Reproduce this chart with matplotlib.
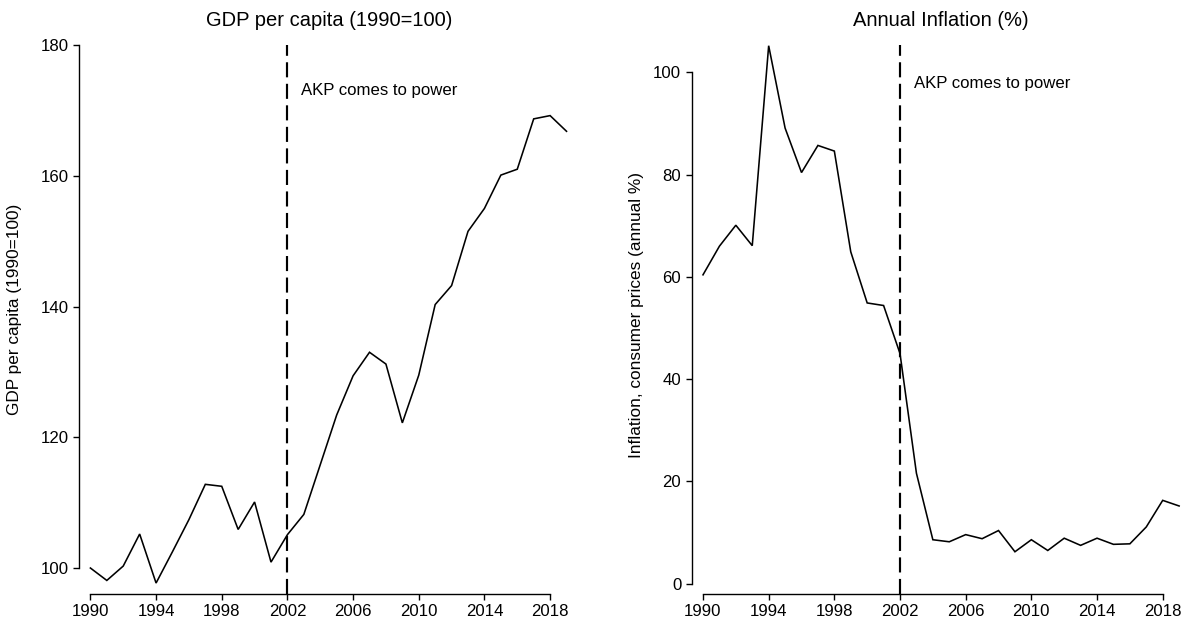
import matplotlib
matplotlib.use("Agg")
import matplotlib.pyplot as plt

plt.rcParams["font.family"] = ["Liberation Sans", "DejaVu Sans"]

# Data: Turkey, 1990-2019
years = list(range(1990, 2020))
gdp_index = [100.0, 98.1, 100.3, 105.2, 97.7, 102.5, 107.4, 112.8, 112.5, 105.9,
             110.1, 100.9, 105.1, 108.2, 115.8, 123.4, 129.4, 133.0, 131.2, 122.2,
             129.5, 140.3, 143.2, 151.5, 155.0, 160.1, 161.0, 168.7, 169.2, 166.8]
inflation = [60.4, 66.0, 70.1, 66.1, 105.2, 89.1, 80.4, 85.7, 84.6, 64.9,
             54.9, 54.4, 45.0, 21.6, 8.6, 8.2, 9.6, 8.8, 10.4, 6.25,
             8.6, 6.5, 8.9, 7.5, 8.9, 7.7, 7.8, 11.1, 16.3, 15.2]

x_ticks = list(range(1990, 2019, 4))
gdp_ticks = [100, 120, 140, 160, 180]
infl_ticks = [0, 20, 40, 60, 80, 100]
event_year = 2002
event_label = "AKP comes to power"

W, H = 1187, 623
fig = plt.figure(figsize=(W / 100, H / 100), dpi=100)

def px_axes(left, top, right, bottom):
    return fig.add_axes([left / W, 1 - bottom / H, (right - left) / W, (bottom - top) / H])

ax1 = px_axes(79.3, 45, 579, 594.3)
ax2 = px_axes(691.9, 45, 1191.6, 594.3)

panels = [
    (ax1, gdp_index, gdp_ticks, (95.98, 180.0), 173.1),
    (ax2, inflation, infl_ticks, (-2.07, 105.34), 97.9),
]

for ax, series, yt, ylim, text_y in panels:
    ax.plot(years, series, color="black", lw=1.15, solid_joinstyle="miter")
    ax.axvline(event_year, color="black", lw=1.55, linestyle=(0, (7, 3)))
    ax.set_xlim(1989.324, 2019.76)
    ax.set_ylim(*ylim)
    ax.set_xticks(x_ticks)
    ax.set_yticks(yt)
    for s in ("top", "right"):
        ax.spines[s].set_visible(False)
    ax.spines["left"].set_bounds(yt[0], yt[-1])
    ax.spines["bottom"].set_bounds(x_ticks[0], x_ticks[-1])
    for s in ("left", "bottom"):
        ax.spines[s].set_linewidth(1.0)
    ax.tick_params(axis="both", length=4.3, width=1.0, labelsize=12.1, color="black")
    ax.tick_params(axis="x", pad=2.5)
    ax.tick_params(axis="y", pad=3.3)
    ax.text(event_year + 0.85, text_y, event_label, fontsize=12.1, va="center", ha="left")
    ax.patch.set_visible(False)

# panel titles and y-axis titles, placed in figure pixels
fig.text(329 / W, 1 - 21 / H, "GDP per capita (1990=100)", fontsize=14.5,
         ha="center", va="center")
fig.text(940.6 / W, 1 - 21 / H, "Annual Inflation (%)", fontsize=14.5,
         ha="center", va="center")
fig.text(15 / W, 1 - 309 / H, "GDP per capita (1990=100)", fontsize=12.4,
         rotation=90, ha="center", va="center")
fig.text(637 / W, 1 - 315 / H, "Inflation, consumer prices (annual %)", fontsize=12.4,
         rotation=90, ha="center", va="center")

fig.savefig("out.png", dpi=100, facecolor="white")
